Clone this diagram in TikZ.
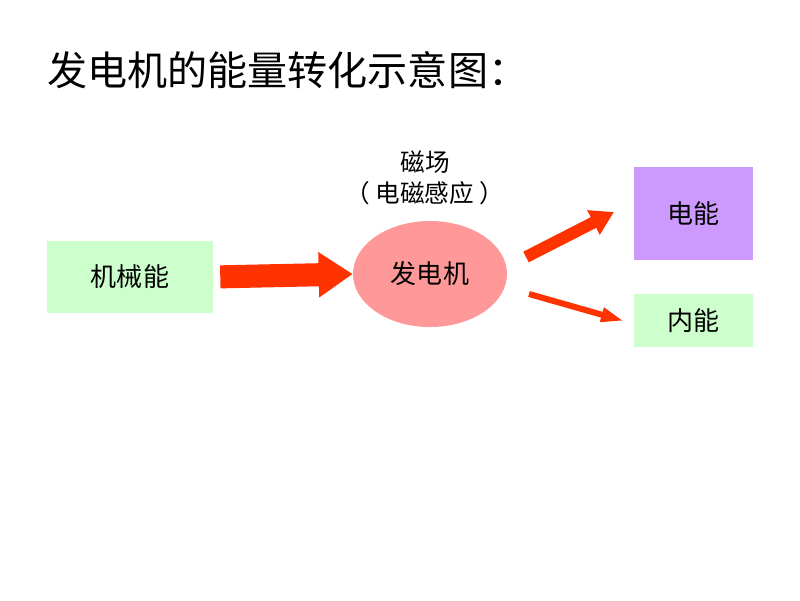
\documentclass[tikz,border=0pt]{standalone}
\usepackage{fontspec}
\setmainfont{Noto Sans CJK SC}
\usepackage{tikz}
\usetikzlibrary{arrows.meta,shapes.geometric}
\definecolor{green1}{rgb}{0.8,1,0.8}
\definecolor{violet1}{rgb}{0.8,0.6,1}
\definecolor{red1}{rgb}{1,0.6,0.6}
\definecolor{red2}{rgb}{1,0.2,0}
\tikzset{
  box/.style={inner sep=0pt, font=\fontsize{18.5}{22}\selectfont},
  bigarrow/.style={draw=red2, line width=16.4pt, -{Triangle[length=24.2pt, width=30.6pt]}},
  midarrow/.style={draw=red2, line width=8.5pt, -{Triangle[length=16.4pt, width=18.5pt]}},
  thinarrow/.style={draw=red2, line width=4.3pt, -{Triangle[length=16.4pt, width=9.5pt]}}
}

\begin{document}
\begin{tikzpicture}[x=0.025cm, y=-0.025cm]
\useasboundingbox[fill=white] (0,0) rectangle (800,600);
\node[anchor=west, font=\fontsize{28.5}{34}\selectfont, inner sep=0pt] (title) at (47,70) {发电机的能量转化示意图：};
\node[box, fill=green1, minimum width=118pt, minimum height=51.2pt] (mech) at (130,277) {机械能};
\node[box, fill=red1, ellipse, minimum width=109.5pt, minimum height=75.4pt] (gen) at (430,274) {发电机};
\node[box, fill=violet1, minimum width=84.6pt, minimum height=66.1pt] (elec) at (693.5,213.5) {电能};
\node[box, fill=green1, minimum width=84.6pt, minimum height=37.7pt] (heat) at (693.5,320.5) {内能};
\node[box, font=\fontsize{17.5}{21}\selectfont] (field) at (425,162) {磁场};
\node[box, font=\fontsize{17.5}{21}\selectfont] (induct) at (425,193) {（\hspace{4pt}电磁感应\hspace{4pt}）};
\coordinate (up0) at (526,257);
\coordinate (up1) at (614,212);
\coordinate (low0) at (529,294);
\coordinate (low1) at (624,321);
\draw[bigarrow, shorten <=5pt] (mech.east) -- (gen.west);
\draw[midarrow] (up0) -- (up1);
\draw[thinarrow] (low0) -- (low1);
\end{tikzpicture}
\end{document}
